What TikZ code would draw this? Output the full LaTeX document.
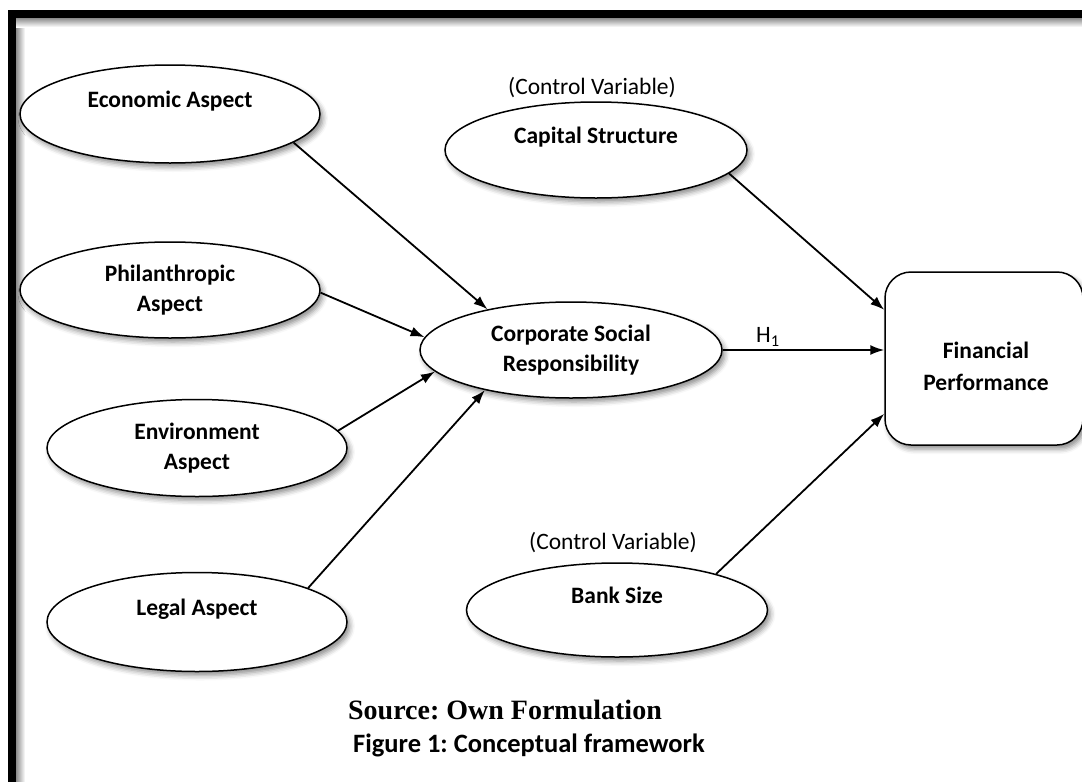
\documentclass[tikz,border=0pt]{standalone}
\usepackage{fontspec}
\setmainfont{Carlito}
\newfontfamily\srcfont{Liberation Serif}
\usetikzlibrary{arrows.meta,shapes.geometric,shadows.blur,calc}
\frenchspacing

\begin{document}
\begin{tikzpicture}[x=1pt,y=-1pt,
  oval/.style={ellipse, draw, line width=1.5pt, fill=white, inner sep=0pt,
    align=center, font=\bfseries\fontsize{23.5}{30}\selectfont,
    blur shadow={shadow xshift=3pt, shadow yshift=-4pt,
      shadow blur radius=5pt, shadow opacity=45}},
  link/.style={line width=1.8pt, -{Latex[length=14pt,width=10pt]}},
  note/.style={font=\fontsize{23.5}{30}\selectfont, inner sep=0pt},
]
\useasboundingbox (0,0) rectangle (1082,782);

% heavy frame on the left and top, with a soft shadow inside
\shade[left color=black!45, right color=white] (16,18) rectangle (25,782);
\shade[top color=black!45, bottom color=white] (16,18) rectangle (1082,27);
\fill[black] (8,10) rectangle (16,782);
\fill[black] (8,10) rectangle (1082,18);

% independent variables
\node[oval, minimum width=300pt, minimum height=98pt] (eco) at (170,114) {Economic Aspect\\\mbox{}};
\node[oval, minimum width=300pt, minimum height=96pt] (phi) at (170,290) {Philanthropic\\Aspect};
\node[oval, minimum width=300pt, minimum height=97pt] (env) at (197,448) {Environment\\Aspect};
\node[oval, minimum width=300pt, minimum height=99pt] (leg) at (197,622) {Legal Aspect\\\mbox{}};

% mediating construct
\node[oval, minimum width=302pt, minimum height=96pt] (csr) at (571,350) {Corporate Social\\Responsibility};

% control variables
\node[note] (cva) at (592,88) {(Control Variable)};
\node[oval, minimum width=302pt, minimum height=96pt] (cap) at (596,150) {Capital Structure\\\mbox{}};

\node[note] (cvb) at (613,543) {(Control Variable)};
\node[oval, minimum width=301pt, minimum height=94pt] (bank) at (617,610) {Bank Size\\\mbox{}};

% dependent variable
\node[draw, line width=1.5pt, fill=white, rounded corners=26pt,
  minimum width=198pt, minimum height=173pt,
  blur shadow={shadow xshift=3pt, shadow yshift=-4pt,
    shadow blur radius=5pt, shadow opacity=45}] (fp) at (984,358.5) {};
\node[align=center, inner sep=0pt, font=\bfseries\fontsize{23.5}{32}\selectfont]
  (fptext) at (986,366) {Financial\\Performance};

% paths
\draw[link] (eco.-13) -- (csr.154);
\draw[link] (phi.-1) -- (csr.175);
\draw[link] (env.7) -- (csr.-171);
\draw[link] (leg.17) -- (csr.-155);
\draw[link] (csr.east) -- (csr.east -| fp.west)
  node[pos=0.28, above=3pt, note] (h1) {H\textsubscript{1}};
\draw[link] (cap.-10) -- (fp.154);
\draw[link] (bank.20) -- (fp.209);

% caption
\node[inner sep=0pt, font=\srcfont\bfseries\fontsize{28}{32}\selectfont] (src) at (505,710) {Source: Own Formulation};
\node[inner sep=0pt, font=\bfseries\fontsize{26.5}{30}\selectfont] (fig) at (529,745) {Figure 1: Conceptual framework};
\end{tikzpicture}
\end{document}
